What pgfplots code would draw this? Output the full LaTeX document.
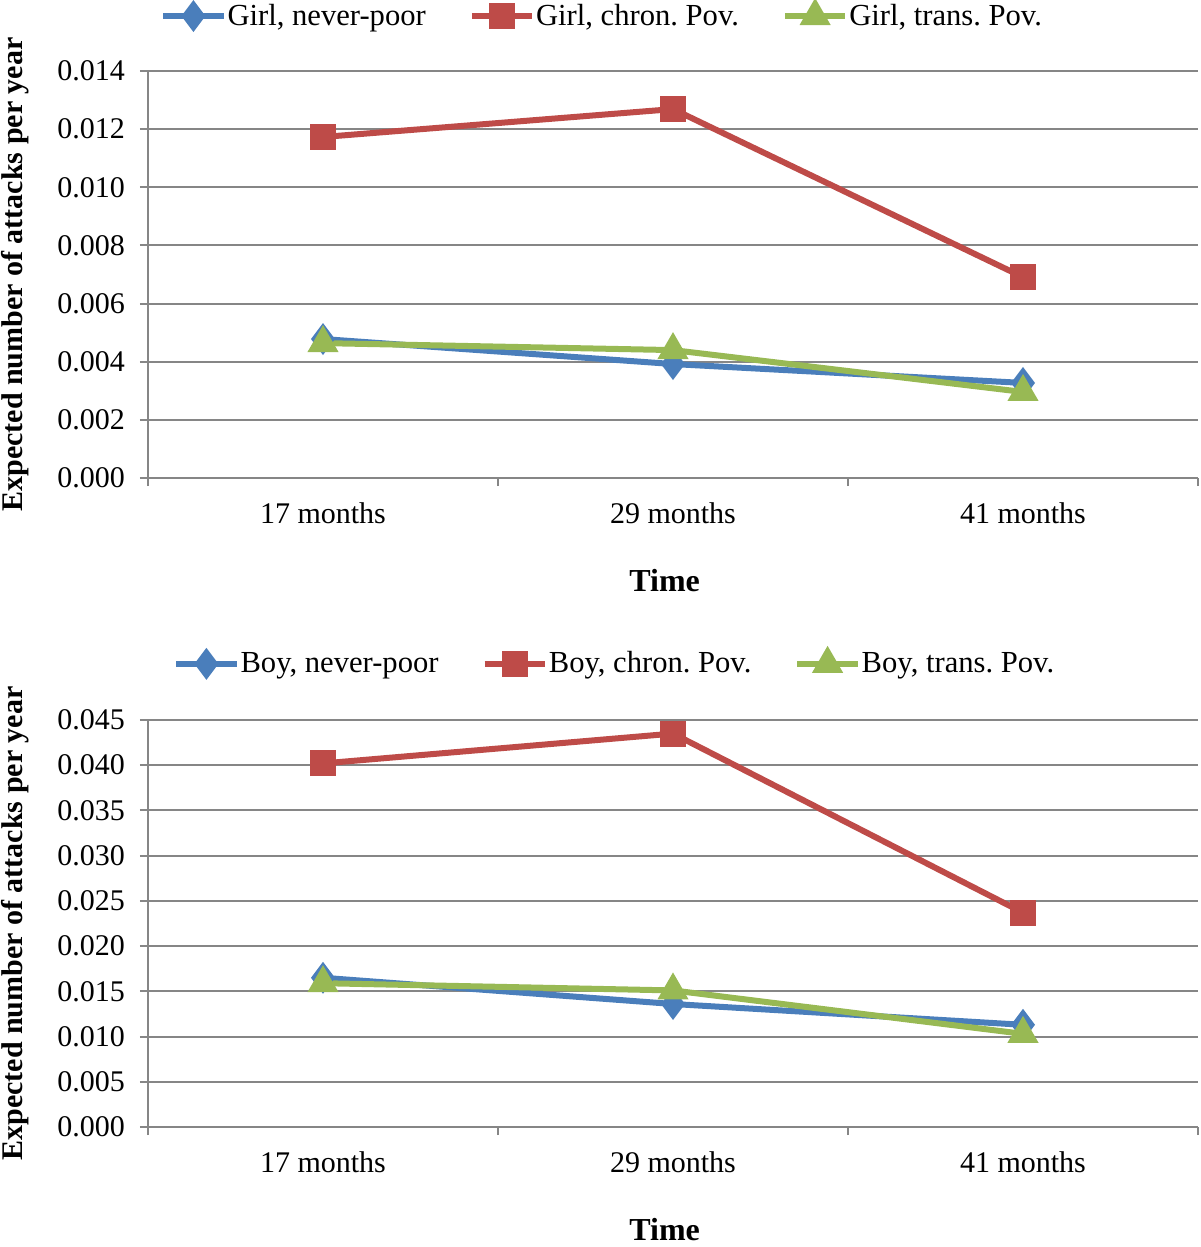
\documentclass[border=0pt]{standalone}
\usepackage{fontspec}
\setmainfont{Liberation Serif}
\usepackage{pgfplots}
\pgfplotsset{compat=1.18}
\frenchspacing
\definecolor{cblue}{HTML}{4A7EBB}
\definecolor{cred}{HTML}{BE4B48}
\definecolor{cgreen}{HTML}{98B954}
\definecolor{cgrid}{HTML}{868686}
\pgfplotsset{
 panel/.style={
  scale only axis, width=525pt, height=203.5pt,
  xmin=0, xmax=3, ymin=0,
  axis x line=bottom, axis y line=left,
  axis line style={-, cgrid, line width=1pt},
  xtick={0,1,2,3}, xticklabels={},
  extra x ticks={0.5,1.5,2.5},
  extra x tick labels={17 months,29 months,41 months},
  extra x tick style={major tick length=0pt, grid=none, xticklabel style={yshift=-9pt}},
  ymajorgrids, major grid style={cgrid, line width=1pt},
  tick align=outside, major tick length=4pt,
  tick style={cgrid, line width=1pt},
  scaled y ticks=false,
  yticklabel style={xshift=-4pt, /pgf/number format/.cd, fixed, fixed zerofill, precision=3, assume math mode=true},
  tick label style={font=\fontsize{15}{18}\selectfont, black},
  ylabel={\textbf{Expected number of attacks per year}},
  xlabel={\textbf{Time}},
  ylabel style={at={(axis description cs:-0.1267,0.5)}, anchor=center, font=\fontsize{15}{18}\selectfont},
  xlabel style={at={(axis description cs:0.492,-0.2531)}, anchor=center, font=\fontsize{16}{19}\selectfont},
  legend columns=3,
  legend style={draw=none, fill=none, font=\fontsize{15.3}{18}\selectfont, anchor=center,
    /tikz/every even column/.append style={column sep=21pt},
    inner sep=0pt, nodes={inner sep=0.5pt}},
  legend image code/.code={\draw[mark repeat=2,mark phase=2] plot coordinates {(0cm,0cm) (0.53cm,0cm) (1.06cm,0cm)};},
  every axis plot/.append style={line width=3pt},
 },
 sblue/.style={cblue, mark=diamond*, mark size=5.5pt, mark options={solid, fill=cblue}},
 sred/.style={cred, mark=square*, mark size=5pt, mark options={solid, fill=cred}},
 sgreen/.style={cgreen, mark=triangle*, mark size=6pt, mark options={solid, fill=cgreen}},
}
\begin{document}
\begin{tikzpicture}
\useasboundingbox (0,0) rectangle (600pt,-623.5pt);
\begin{axis}[panel, at={(74pt,-35.5pt)}, anchor=north west,
  ymax=0.014, ytick={0,0.002,0.004,0.006,0.008,0.010,0.012,0.014},
  legend style={at={(axis description cs:0.432,1.135)}}]
\addplot[sblue] coordinates {(0.5,0.00478) (1.5,0.00392) (2.5,0.00327)};
\addlegendentry{Girl, never-poor}
\addplot[sred] coordinates {(0.5,0.01173) (1.5,0.01269) (2.5,0.00691)};
\addlegendentry{Girl, chron. Pov.}
\addplot[sgreen] coordinates {(0.5,0.00464) (1.5,0.00440) (2.5,0.00296)};
\addlegendentry{Girl, trans. Pov.}
\end{axis}
\begin{axis}[panel, at={(74pt,-360pt)}, anchor=north west,
  ymax=0.045, ytick={0,0.005,0.010,0.015,0.020,0.025,0.030,0.035,0.040,0.045},
  legend style={at={(axis description cs:0.444,1.138)}}]
\addplot[sblue] coordinates {(0.5,0.0165) (1.5,0.0136) (2.5,0.0113)};
\addlegendentry{Boy, never-poor}
\addplot[sred] coordinates {(0.5,0.0402) (1.5,0.0435) (2.5,0.0237)};
\addlegendentry{Boy, chron. Pov.}
\addplot[sgreen] coordinates {(0.5,0.0159) (1.5,0.0151) (2.5,0.0103)};
\addlegendentry{Boy, trans. Pov.}
\end{axis}
\end{tikzpicture}
\end{document}
